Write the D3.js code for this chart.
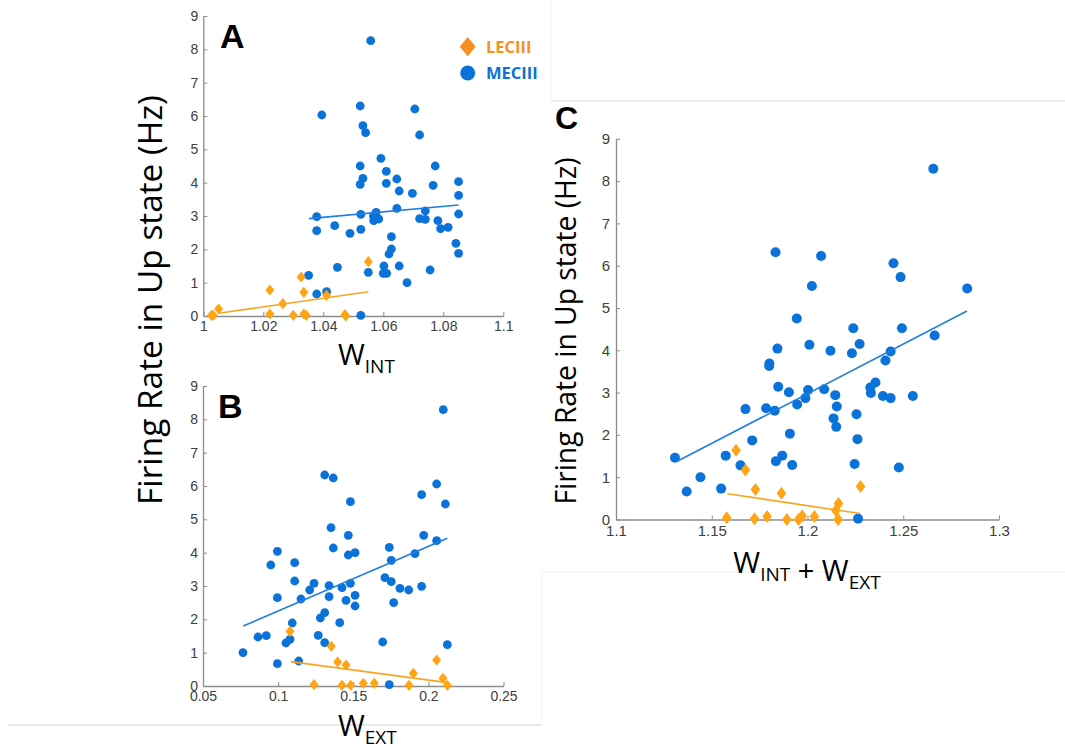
<!DOCTYPE html>
<html>
<head>
<meta charset="utf-8">
<script src="https://cdn.jsdelivr.net/npm/d3@7"></script>
<style>
  body { margin: 0; background: #fff; }
  svg { display: block; }
</style>
</head>
<body>
<div id="chart"></div>
<script>
// Values: [x, firing rate (Hz)]
const mecA = [[1.0558,8.26],[1.0395,6.03],[1.0523,6.30],[1.0705,6.21],[1.0532,5.71],[1.0541,5.50],[1.0721,5.43],[1.0592,4.73],[1.0523,4.50],[1.0773,4.50],[1.0610,4.34],[1.0532,4.13],[1.0645,4.11],[1.0523,3.95],[1.0610,3.98],[1.0851,4.03],[1.0766,3.92],[1.0653,3.75],[1.0697,3.68],[1.0851,3.62],
  [1.0378,2.98],[1.0525,3.05],[1.0576,3.11],[1.0567,3.00],[1.0568,2.86],[1.0585,2.91],[1.0645,3.23],[1.0740,3.15],[1.0721,2.92],[1.0740,2.90],[1.0782,2.86],[1.0851,3.06],[1.0378,2.56],[1.0438,2.71],[1.0489,2.48],[1.0525,2.60],[1.0627,2.38],[1.0627,2.01],[1.0619,1.86],[1.0791,2.62],[1.0816,2.66],[1.0842,2.18],[1.0851,1.88],[1.0447,1.46],[1.0351,1.22],[1.0550,1.31],[1.0602,1.50],[1.0600,1.28],[1.0611,1.28],[1.0653,1.50],[1.0756,1.38],[1.0679,1.00],[1.0378,0.66],[1.0411,0.73],[1.0525,0.02]];
const lecA = [[1.0027,0.02],[1.0033,0.02],[1.0051,0.21],[1.0222,0.78],[1.0222,0.06],[1.0265,0.37],[1.0300,0.02],[1.0326,1.17],[1.0335,0.71],[1.0335,0.06],[1.0343,0.02],[1.0411,0.62],[1.0472,0.04],[1.0475,0.00],[1.0550,1.63]];
const mecFitA = [[1.0352,2.92],[1.0851,3.33]];
const lecFitA = [[1.0051,0.08],[1.0550,0.73]];

const mecB = [[0.2099,8.29],[0.1310,6.33],[0.1367,6.24],[0.2055,6.06],[0.1955,5.74],[0.1481,5.53],[0.2113,5.46],[0.1352,4.75],[0.1467,4.52],[0.1969,4.52],[0.2055,4.36],[0.0995,4.04],[0.1367,4.14],[0.1740,4.16],[0.1467,3.93],[0.1512,4.00],[0.1911,3.97],[0.0951,3.63],[0.1110,3.70],[0.1753,3.77],
  [0.1110,3.15],[0.1239,3.08],[0.1210,2.88],[0.1339,3.01],[0.1425,2.95],[0.1481,3.08],[0.1711,3.25],[0.1753,3.13],[0.1811,2.93],[0.1869,2.88],[0.1955,2.99],[0.0995,2.65],[0.1152,2.61],[0.1339,2.68],[0.1452,2.57],[0.1512,2.72],[0.1512,2.40],[0.1769,2.50],[0.1310,2.20],[0.1281,2.04],[0.1094,1.89],[0.1410,1.90],[0.0866,1.47],[0.0921,1.51],[0.1079,1.40],[0.1052,1.29],[0.1267,1.52],[0.1310,1.30],[0.1696,1.32],[0.0766,1.00],[0.0995,0.67],[0.1137,0.75],[0.2126,1.24],[0.1740,0.04]];
const lecB = [[0.1079,1.64],[0.1354,1.19],[0.1396,0.72],[0.1452,0.63],[0.1239,0.04],[0.1425,0.02],[0.1483,0.02],[0.1567,0.08],[0.1640,0.08],[0.1871,0.02],[0.1900,0.38],[0.2055,0.78],[0.2097,0.23],[0.2126,0.02]];
const mecFitB = [[0.0768,1.80],[0.2126,4.43]];
const lecFitB = [[0.1084,0.73],[0.2126,0.10]];

const mecC = [[1.2657,8.29],[1.1833,6.32],[1.2071,6.23],[1.2449,6.06],[1.2486,5.73],[1.2023,5.52],[1.2834,5.46],[1.1944,4.75],
  [1.2239,4.52],[1.2493,4.52],[1.2664,4.35],[1.1843,4.04],[1.2010,4.13],[1.2120,3.99],[1.2232,3.93],[1.2272,4.15],[1.2434,3.97],[1.2407,3.76],[1.1801,3.69],[1.1800,3.63],[1.1847,3.14],[1.2355,3.24],[1.2328,3.12],[1.2331,2.99],[1.1903,3.01],[1.2003,3.06],[1.2087,3.08],[1.1989,2.87],[1.1946,2.72],[1.2145,2.94],[1.2394,2.92],[1.2434,2.87],[1.2550,2.92],[1.1676,2.61],[1.1784,2.63],[1.1829,2.57],[1.2153,2.67],[1.2136,2.39],[1.2150,2.19],[1.2256,2.49],[1.1908,2.03],[1.2261,1.90],[1.1711,1.87],[1.1308,1.46],[1.1573,1.51],[1.1650,1.28],[1.1868,1.51],[1.1835,1.38],[1.1920,1.29],[1.2246,1.31],[1.2477,1.23],[1.1441,1.00],[1.1369,0.66],[1.1549,0.73],[1.2264,0.02]];
const lecC = [[1.1627,1.64],[1.1676,1.17],[1.1728,0.71],[1.1864,0.62],[1.2277,0.78],[1.2162,0.38],[1.2148,0.21],[1.1578,0.04],[1.1723,0.02],[1.1789,0.07],[1.1892,0.00],[1.1953,0.00],[1.1972,0.08],[1.2036,0.07],[1.2160,0.00]];
const mecFitC = [[1.1317,1.37],[1.2833,4.93]];
const lecFitC = [[1.1582,0.61],[1.2275,0.14]];

// Tick values and labels
const rateTicks = [0,1,2,3,4,5,6,7,8,9];
const xTicksA = [1,1.02,1.04,1.06,1.08,1.1];
const xLabelsA = ["1","1.02","1.04","1.06","1.08","1.1"];
const xTicksB = [0.05,0.1,0.15,0.2,0.25];
const xLabelsB = ["0.05","0.1","0.15","0.2","0.25"];
const xTicksC = [1.1,1.15,1.2,1.25,1.3];
const xLabelsC = ["1.1","1.15","1.2","1.25","1.3"];
const legendNames = ["LECIII","MECIII"];

const W = 1065, H = 749;
const BLUE = "#0a72d8", ORANGE = "#ffa514";
const LEGEND_ORANGE = "#f7901e";
const AXIS = "#8c8c8c", TICK_TEXT = "#404040";
const LABEL_FONT = "'Open Sans', 'Noto Sans', sans-serif";
const TICK_FONT = "'Liberation Sans', Arial, sans-serif";

const svg = d3.select("#chart").append("svg")
  .attr("width", W)
  .attr("height", H);

// Faint frame lines left over from the composed figure
const frame = svg.append("g").attr("fill", "none");
frame.append("line").attr("x1", 551).attr("y1", 101).attr("x2", W).attr("y2", 101).attr("stroke", "#d9d9d9");
frame.append("line").attr("x1", 551).attr("y1", 0).attr("x2", 551).attr("y2", 101).attr("stroke", "#f3f3f3");
frame.append("line").attr("x1", 8).attr("y1", 725).attr("x2", 542).attr("y2", 725).attr("stroke", "#d4d4d4");
frame.append("line").attr("x1", 542).attr("y1", 572).attr("x2", 542).attr("y2", 725).attr("stroke", "#f3f3f3");
frame.append("line").attr("x1", 542).attr("y1", 572).attr("x2", W).attr("y2", 572).attr("stroke", "#ececec");

const diamond = (hw, hh) => `M0,${-hh}L${hw},0L0,${hh}L${-hw},0Z`;

function drawPanel(p) {
  const x = d3.scaleLinear().domain(p.xDomain).range(p.xRange);
  const y = d3.scaleLinear().domain([0, 9]).range(p.yRange);
  const g = svg.append("g");

  // Axes with inward ticks, MATLAB style
  const yAxis = g.append("g")
    .attr("transform", `translate(${p.xRange[0]},0)`)
    .call(d3.axisLeft(y).tickValues(rateTicks).tickFormat(d3.format("d"))
      .tickSizeInner(-4).tickSizeOuter(0).tickPadding(p.yPad));
  const xAxis = g.append("g")
    .attr("transform", `translate(0,${p.yRange[0]})`)
    .call(d3.axisBottom(x).tickValues(p.xTicks).tickFormat((d, i) => p.xLabels[i])
      .tickSizeInner(-4).tickSizeOuter(0).tickPadding(p.xPad));

  [yAxis, xAxis].forEach(a => {
    a.select(".domain").attr("stroke", AXIS).attr("stroke-width", 1.3);
    a.selectAll(".tick line").attr("stroke", AXIS).attr("stroke-width", 1);
    a.selectAll(".tick text")
      .attr("fill", TICK_TEXT)
      .style("font-family", TICK_FONT)
      .style("font-size", p.tickSize + "px");
  });

  // MECIII circles
  g.append("g").selectAll("circle")
    .data(p.mec)
    .join("circle")
    .attr("cx", d => x(d[0]))
    .attr("cy", d => y(d[1]))
    .attr("r", p.r)
    .attr("fill", BLUE);

  // LECIII diamonds
  g.append("g").selectAll("path")
    .data(p.lec)
    .join("path")
    .attr("transform", d => `translate(${x(d[0])},${y(d[1])})`)
    .attr("d", diamond(p.dw, p.dh))
    .attr("fill", ORANGE);

  // Regression lines
  const line = d3.line().x(d => x(d[0])).y(d => y(d[1]));
  g.append("path").datum(p.mecFit).attr("d", line)
    .attr("fill", "none").attr("stroke", "#1f7fe0").attr("stroke-width", 1.6);
  g.append("path").datum(p.lecFit).attr("d", line)
    .attr("fill", "none").attr("stroke", "#f5a522").attr("stroke-width", 1.6);

  // Panel letter
  svg.append("text")
    .attr("x", p.letterPos[0])
    .attr("y", p.letterPos[1])
    .style("font-family", "'Liberation Sans', Arial, sans-serif")
    .style("font-weight", "bold")
    .style("font-size", p.letterSize + "px")
    .attr("fill", "#000")
    .text(p.letter);

  // X label with subscripts
  const xl = svg.append("text")
    .attr("x", p.xLabelPos[0])
    .attr("y", p.xLabelPos[1])
    .attr("text-anchor", p.xLabelAnchor)
    .style("font-family", LABEL_FONT)
    .style("font-size", "29px")
    .attr("fill", "#000");
  p.xLabelParts.forEach(part => {
    if (part.sub) {
      xl.append("tspan").attr("dy", 8).style("font-size", "19px").text(part.t);
      xl.append("tspan").attr("dy", -8).text("");
    } else {
      xl.append("tspan").text(part.t);
    }
  });
}

drawPanel({
  letter: "A", letterPos: [220, 48], letterSize: 34,
  xDomain: [1, 1.1], xRange: [203.3, 503.3], yRange: [316, 16],
  xTicks: xTicksA, xLabels: xLabelsA, tickSize: 14, yPad: 5, xPad: 5,
  mec: mecA, lec: lecA, mecFit: mecFitA, lecFit: lecFitA,
  r: 4.4, dw: 4.5, dh: 5.6,
  xLabelPos: [338, 365], xLabelAnchor: "start",
  xLabelParts: [{t: "W"}, {t: "INT", sub: true}]
});

drawPanel({
  letter: "B", letterPos: [218, 418], letterSize: 34,
  xDomain: [0.05, 0.25], xRange: [203, 503.5], yRange: [686, 386],
  xTicks: xTicksB, xLabels: xLabelsB, tickSize: 14, yPad: 5, xPad: 5,
  mec: mecB, lec: lecB, mecFit: mecFitB, lecFit: lecFitB,
  r: 4.4, dw: 4.5, dh: 5.6,
  xLabelPos: [338, 736], xLabelAnchor: "start",
  xLabelParts: [{t: "W"}, {t: "EXT", sub: true}]
});

drawPanel({
  letter: "C", letterPos: [555, 129], letterSize: 32,
  xDomain: [1.1, 1.3], xRange: [616, 999], yRange: [519.5, 138.8],
  xTicks: xTicksC, xLabels: xLabelsC, tickSize: 15, yPad: 6, xPad: 6,
  mec: mecC, lec: lecC, mecFit: mecFitC, lecFit: lecFitC,
  r: 5, dw: 4.8, dh: 6.5,
  xLabelPos: [807, 573], xLabelAnchor: "middle",
  xLabelParts: [{t: "W"}, {t: "INT", sub: true}, {t: " + W"}, {t: "EXT", sub: true}]
});

// Y labels, sized to the span they take in the figure
function yLabel(cx, cy, span) {
  const t = svg.append("text")
    .attr("transform", `translate(${cx},${cy}) rotate(-90)`)
    .attr("text-anchor", "middle")
    .attr("dy", "0.35em")
    .style("font-family", LABEL_FONT)
    .style("font-size", "30px")
    .attr("fill", "#000")
    .text("Firing Rate in Up state (Hz)");
  const len = t.node().getComputedTextLength();
  t.style("font-size", (30 * span / len).toFixed(2) + "px");
}
yLabel(150, 300, 410);
yLabel(566, 331, 347);

// Legend (panel A)
const legend = svg.append("g");
legend.append("path")
  .attr("transform", "translate(467.7,46.7)")
  .attr("d", diamond(8, 9.6))
  .attr("fill", LEGEND_ORANGE);
legend.append("circle")
  .attr("cx", 467.7).attr("cy", 73).attr("r", 7.5)
  .attr("fill", BLUE);
legend.selectAll("text")
  .data(legendNames)
  .join("text")
  .attr("x", 486)
  .attr("y", (d, i) => 52.5 + i * 26)
  .style("font-family", LABEL_FONT)
  .style("font-weight", "bold")
  .style("font-size", "16.5px")
  .attr("fill", (d, i) => i === 0 ? LEGEND_ORANGE : BLUE)
  .text(d => d);
</script>
</body>
</html>
